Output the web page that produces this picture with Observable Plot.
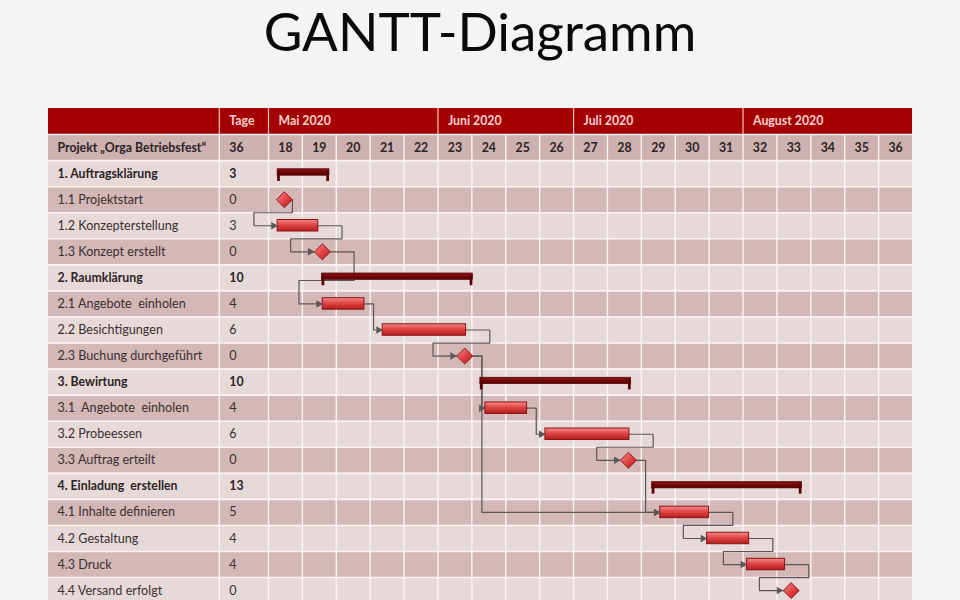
<!DOCTYPE html>
<html><head><meta charset="utf-8">
<script src="https://cdn.jsdelivr.net/npm/d3@7"></script>
<script src="https://cdn.jsdelivr.net/npm/@observablehq/plot@0.6"></script>
<style>
html,body{margin:0;padding:0;background:#f4f4f4;width:960px;height:600px;overflow:hidden;}
#title{height:100px;margin:0;text-align:center;font-family:Lato,sans-serif;font-size:53px;font-weight:400;color:#0a0a0a;line-height:62px;}
#chart svg{display:block;}
</style></head><body>
<div id="title">GANTT-Diagramm</div>
<div id="chart"></div>
<script>
// ---- data ----
const projectName = "Projekt „Orga Betriebsfest“";
const projectDays = 36;
const taskNames = [
  "1. Auftragsklärung", "1.1 Projektstart", "1.2 Konzepterstellung", "1.3 Konzept erstellt",
  "2. Raumklärung", "2.1 Angebote  einholen", "2.2 Besichtigungen", "2.3 Buchung durchgeführt",
  "3. Bewirtung", "3.1  Angebote  einholen", "3.2 Probeessen", "3.3 Auftrag erteilt",
  "4. Einladung  erstellen", "4.1 Inhalte definieren", "4.2 Gestaltung", "4.3 Druck", "4.4 Versand erfolgt"
];
const taskDays = [3, 0, 3, 0, 10, 4, 6, 0, 10, 4, 6, 0, 13, 5, 4, 4, 0];
const taskKind = ["summary","milestone","task","milestone","summary","task","task","milestone",
  "summary","task","task","milestone","summary","task","task","task","milestone"];
// start / end in calendar-week units (KW)
const taskStart = [18.27, 18.47, 18.27, 19.59, 19.58, 19.60, 21.37, 23.79, 24.25, 24.40, 26.17, 28.62, 29.32, 29.56, 30.94, 32.12, 33.42];
const taskEnd   = [19.80, 18.47, 19.47, 19.59, 24.03, 20.83, 23.83, 23.79, 28.70, 25.63, 28.65, 28.62, 33.74, 31.00, 32.18, 33.24, 33.42];
const weekLabels = ["18","19","20","21","22","23","24","25","26","27","28","29","30","31","32","33","34","35","36"];
const monthNames = ["Mai 2020", "Juni 2020", "Juli 2020", "August 2020"];
const monthStartWeek = [18, 23, 27, 32];
const dependencies = [["1.1","1.2"],["1.2","1.3"],["1.3","2.1"],["2.1","2.2"],["2.2","2.3"],
  ["2.3","3.1"],["2.3","4.1"],["3.1","3.2"],["3.2","3.3"],["3.3","4.1"],["4.1","4.2"],["4.2","4.3"],["4.3","4.4"]];

// ---- layout (in scale units) ----
const X0 = 11.51, XT = 16.55, XEND = 37;   // table left edge, "Tage" column, right edge
const MS = 0.236;                           // milestone half width
const exitOverride = {"1.1>1.2": 0};

const weeks = weekLabels.map(Number);
const ids = taskNames.map(n => n.trim().split(/\s+/)[0].replace(/\.$/, ""));
const idx = Object.fromEntries(ids.map((id, i) => [id, i]));
const tasks = taskNames.map((name, i) => ({name, days: taskDays[i], kind: taskKind[i], start: taskStart[i], end: taskEnd[i], row: i}));

const rows = [{row: -2, fill: "#a40000"}, {row: -1, fill: "#cdb0b0"},
  ...tasks.map(t => ({row: t.row, fill: t.row % 2 ? "#d4b7b7" : "#e8d9d9"}))];

// dependency routes
const linkPts = [], arrows = [];
dependencies.forEach(([a, b], k) => {
  const i = idx[a], j = idx[b];
  const pe = taskKind[i] === "milestone" ? taskStart[i] + MS : taskEnd[i];
  const ss = taskKind[j] === "milestone" ? taskStart[j] - MS : taskStart[j];
  const yp = i + 0.5, ys = j + 0.5;
  let pts;
  if (ss >= pe + 0.2) {
    const xa = pe + 0.27;
    pts = [[pe, yp], [xa, yp], [xa, ys], [ss, ys]];
  } else {
    const xb = pe + (exitOverride[a + ">" + b] ?? 0.7);
    const xc = ss - 0.7;
    const yh = j === i + 1 ? j : j - 0.4;
    pts = [[pe, yp], [xb, yp], [xb, yh], [xc, yh], [xc, ys], [ss, ys]];
  }
  pts.forEach(([x, y]) => linkPts.push({id: k, x, y}));
  arrows.push({x: ss, y: ys});
});

const summaries = tasks.filter(t => t.kind === "summary");
const others = tasks.filter(t => t.kind !== "summary");
const bars = tasks.filter(t => t.kind === "task");
const miles = tasks.filter(t => t.kind === "milestone");
const sumEnds = summaries.flatMap(t => [{x1: t.start, x2: t.start + 0.08, row: t.row}, {x1: t.end - 0.08, x2: t.end, row: t.row}]);

const defs = () => {
  const d = d3.create("svg:defs");
  const g1 = d.append("linearGradient").attr("id", "barGrad").attr("x1", 0).attr("y1", 0).attr("x2", 0).attr("y2", 1);
  g1.append("stop").attr("offset", "0%").attr("stop-color", "#f58a8a");
  g1.append("stop").attr("offset", "45%").attr("stop-color", "#e04848");
  g1.append("stop").attr("offset", "100%").attr("stop-color", "#b51d1d");
  const g2 = d.append("linearGradient").attr("id", "sumGrad").attr("x1", 0).attr("y1", 0).attr("x2", 0).attr("y2", 1);
  g2.append("stop").attr("offset", "0%").attr("stop-color", "#8c1414");
  g2.append("stop").attr("offset", "100%").attr("stop-color", "#5a0000");
  const g3 = d.append("linearGradient").attr("id", "msGrad").attr("x1", 0).attr("y1", 0).attr("x2", 1).attr("y2", 1);
  g3.append("stop").attr("offset", "0%").attr("stop-color", "#f58a8a");
  g3.append("stop").attr("offset", "55%").attr("stop-color", "#dd4040");
  g3.append("stop").attr("offset", "100%").attr("stop-color", "#b01a1a");
  return d.node();
};

const font = "Lato, sans-serif";
const dark = "#2b2424";
const headTxt = "#f6d2d2";
const fsReg = 12.6, fsBold = 12.3;

const plot = Plot.plot({
  width: 960, height: 500,
  marginLeft: 48, marginRight: 48, marginTop: 8, marginBottom: 0,
  x: {domain: [X0, XEND], axis: null},
  y: {domain: [-2, 16.88], reverse: true, axis: null},
  style: {background: "transparent", fontFamily: font},
  marks: [
    defs,
    Plot.rect(rows, {x1: X0, x2: XEND, y1: "row", y2: d => d.row + 1, fill: "fill"}),
    Plot.ruleY(d3.range(-1, 18), {x1: X0, x2: XEND, stroke: "#fbf4f4", strokeWidth: 1.6}),
    Plot.ruleX([XT, ...weeks], {y1: -1, y2: 17, stroke: "#fbf4f4", strokeWidth: 1.4}),
    Plot.ruleX([XT, ...monthStartWeek], {y1: -2, y2: -1, stroke: "#f0c4c4", strokeWidth: 1.2}),
    // header texts
    Plot.text(["Tage"], {x: XT, y: -1.5, text: d => d, dx: 10, textAnchor: "start", fill: headTxt, fontWeight: "bold", fontSize: fsBold}),
    Plot.text(monthNames, {x: (d, i) => monthStartWeek[i], y: -1.5, text: d => d, dx: 10, textAnchor: "start", fill: headTxt, fontWeight: "bold", fontSize: fsBold}),
    Plot.text([projectName], {x: X0, y: -0.5, text: d => d, dx: 9, textAnchor: "start", fill: dark, fontWeight: "bold", fontSize: fsBold}),
    Plot.text([projectDays], {x: XT, y: -0.5, text: d => String(d), dx: 10, textAnchor: "start", fill: dark, fontWeight: "bold", fontSize: fsBold}),
    Plot.text(weekLabels, {x: d => +d + 0.5, y: -0.5, text: d => d, fill: dark, fontWeight: "bold", fontSize: fsBold}),
    // task column
    Plot.text(summaries, {x: X0, y: d => d.row + 0.5, text: "name", dx: 9, textAnchor: "start", fill: dark, fontSize: fsBold, fontWeight: "bold"}),
    Plot.text(others, {x: X0, y: d => d.row + 0.5, text: "name", dx: 9, textAnchor: "start", fill: "#3a3030", fontSize: fsReg}),
    Plot.text(summaries, {x: XT, y: d => d.row + 0.5, text: d => String(d.days), dx: 10, textAnchor: "start", fill: dark, fontSize: fsBold, fontWeight: "bold"}),
    Plot.text(others, {x: XT, y: d => d.row + 0.5, text: d => String(d.days), dx: 10, textAnchor: "start", fill: "#3a3030", fontSize: fsReg}),
    // dependency lines
    Plot.line(linkPts, {x: "x", y: "y", z: "id", stroke: "#5d5656", strokeWidth: 1.2, curve: "linear"}),
    // summary bars
    Plot.rect(summaries, {x1: "start", x2: "end", y1: d => d.row + 0.33, y2: d => d.row + 0.58, fill: "url(#sumGrad)", stroke: "#4a0000", strokeWidth: 0.6}),
    Plot.rect(sumEnds, {x1: "x1", x2: "x2", y1: d => d.row + 0.4, y2: d => d.row + 0.8, fill: "#5a0000"}),
    // task bars
    Plot.rect(bars, {x1: "start", x2: "end", y1: d => d.row + 0.28, y2: d => d.row + 0.72, fill: "url(#barGrad)", stroke: "#8a1212", strokeWidth: 1}),
    // milestones
    Plot.dot(miles, {x: "start", y: d => d.row + 0.5, symbol: "diamond2", r: 7.2, fill: "url(#msGrad)", stroke: "#9a1818", strokeWidth: 1}),
    // arrow heads
    Plot.dot(arrows, {x: "x", y: "y", symbol: "triangle", r: 2.8, rotate: 90, dx: -4.2, fill: "#5d5656", stroke: "none"})
  ]
});
document.getElementById("chart").appendChild(plot);
</script>
</body></html>
